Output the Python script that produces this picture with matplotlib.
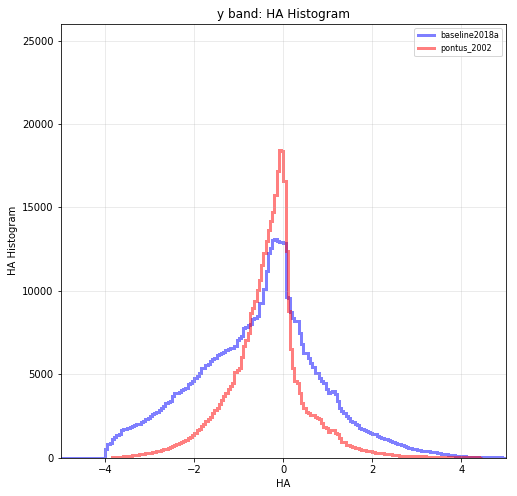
import numpy as np
import matplotlib
matplotlib.use("Agg")
import matplotlib.pyplot as plt
from matplotlib.lines import Line2D

# bin width of both histograms (HA units)
bin_width = 0.05

# baseline2018a: bins start at -5.0
blue_start = -5.0
blue_counts = [
    0, 0, 0, 0, 0, 0, 0, 0, 0, 0,
    0, 0, 0, 0, 0, 0, 0, 0, 0, 0,
    500, 850, 900, 1150, 1250, 1350, 1400, 1650, 1700, 1750,
    1800, 1850, 1900, 1950, 2000, 2050, 2150, 2200, 2300, 2400,
    2500, 2600, 2650, 2750, 2850, 2950, 3100, 3300, 3350, 3400,
    3700, 3850, 3900, 3950, 4050, 4100, 4200, 4400, 4500, 4600,
    4800, 4900, 5050, 5350, 5400, 5550, 5600, 5800, 5900, 6000,
    6150, 6200, 6300, 6350, 6450, 6500, 6550, 6600, 6700, 7050,
    7200, 7300, 7800, 7850, 7950, 8000, 8300, 8400, 8500, 9250,
    9300, 10100, 11200, 12300, 12600, 13050, 13100, 13000, 12950, 12950,
    12900, 9650, 9550, 8750, 8400, 8200, 8200, 7450, 6800, 6300,
    6300, 5950, 5700, 5450, 5100, 5050, 4750, 4600, 4450, 4100,
    3900, 3950, 4000, 3800, 3400, 3000, 2800, 2650, 2500, 2400,
    2200, 2150, 2000, 1950, 1800, 1700, 1650, 1600, 1550, 1500,
    1450, 1400, 1300, 1250, 1200, 1150, 1100, 1050, 1000, 950,
    880, 850, 800, 750, 680, 650, 600, 560, 520, 500,
    480, 450, 430, 420, 400, 380, 360, 340, 320, 300,
    280, 250, 220, 200, 180, 160, 140, 120, 100, 90,
    80, 75, 70, 65, 60, 55, 50, 50, 45, 40,
    40, 35, 30, 30, 25, 20, 20, 15, 10, 5,
]

# pontus_2002: bins start at -3.85
red_start = -3.85
red_counts = [
    30, 40, 50, 60, 70, 80, 90, 100, 120, 140,
    160, 180, 200, 220, 240, 260, 280, 300, 330, 360,
    390, 420, 460, 500, 540, 580, 620, 680, 740, 800,
    860, 920, 1000, 1080, 1160, 1250, 1350, 1500, 1650, 1750,
    1900, 2050, 2200, 2350, 2450, 2650, 2850, 3000, 3200, 3450,
    3700, 3900, 4100, 4300, 4500, 5150, 5250, 5350, 6050, 6700,
    7050, 7450, 8650, 9000, 9400, 10050, 10650, 11550, 12250, 13000,
    13650, 14200, 14750, 15750, 17200, 18450, 18400, 16600, 12400, 8800,
    6500, 5400, 4600, 4450, 3850, 3250, 2950, 2750, 2700, 2560,
    2560, 2450, 2360, 2300, 2060, 1860, 1800, 1560, 1660, 1650,
    1500, 1450, 1160, 960, 950, 760, 750, 700, 620, 600,
    580, 500, 490, 470, 420, 400, 380, 320, 310, 290,
    280, 260, 240, 220, 210, 200, 190, 170, 150, 130,
    120, 110, 105, 100, 95, 90, 88, 85, 80, 75,
    72, 70, 68, 65, 62, 60, 58, 56, 54, 52,
    50, 48, 46, 45, 44, 42, 40, 38, 36, 34,
    30, 26, 22, 18, 14, 10,
]

labels = ["baseline2018a", "pontus_2002"]
colors = ["b", "r"]

blue_edges = blue_start + bin_width * np.arange(len(blue_counts) + 1)
red_edges = red_start + bin_width * np.arange(len(red_counts) + 1)

fig = plt.figure(figsize=(517 / 72, 496 / 72), dpi=72)
ax = fig.add_axes([60.7 / 517, 38.3 / 496, 445.3 / 517, 433.7 / 496])

ax.stairs(blue_counts, blue_edges, color=colors[0], alpha=0.5, linewidth=3)
ax.stairs(red_counts, red_edges, color=colors[1], alpha=0.5, linewidth=3)

ax.set_xlim(-5, 5)
ax.set_ylim(0, 26000)
ax.set_xticks([-4, -2, 0, 2, 4])
ax.set_yticks([0, 5000, 10000, 15000, 20000, 25000])
ax.tick_params(labelsize=10)
ax.grid(True, alpha=0.3)
ax.set_xlabel("HA", fontsize=10)
ax.set_ylabel("HA Histogram", fontsize=10)
ax.set_title("y band: HA Histogram", fontsize=12)

handles = [Line2D([], [], color=c, alpha=0.5, linewidth=3) for c in colors]
ax.legend(handles, labels, loc="upper right", fontsize=8)

fig.savefig("out.png", dpi=72)
